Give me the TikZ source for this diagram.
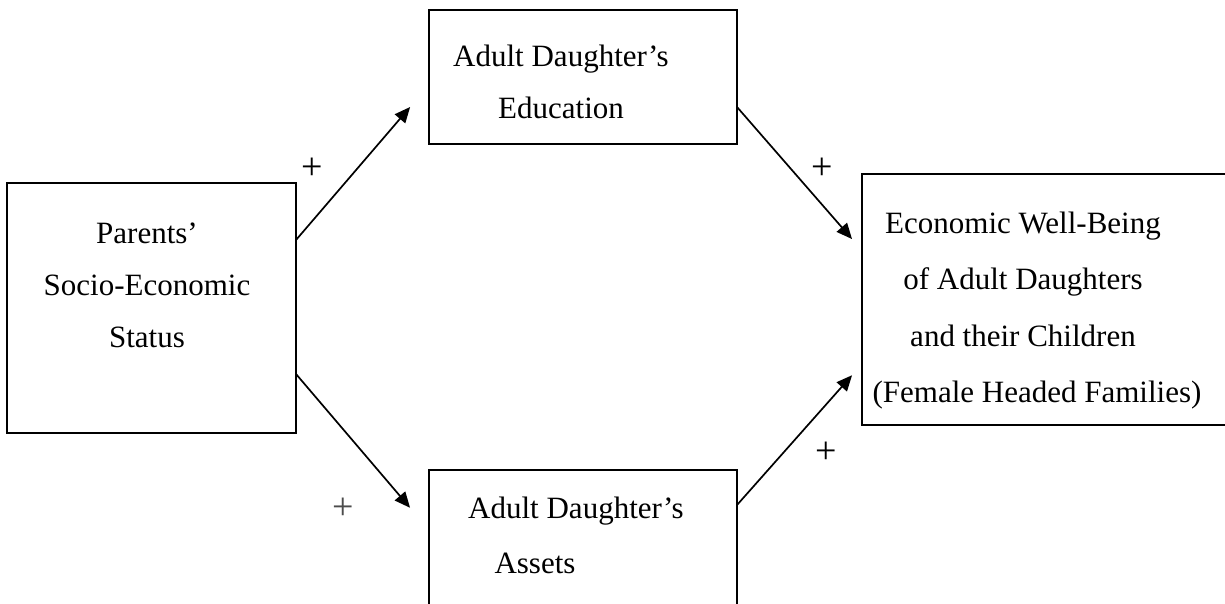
\documentclass[tikz,border=0pt]{standalone}
\usepackage{fontspec}
\setmainfont{Liberation Serif}
\usetikzlibrary{arrows.meta,calc}

\tikzset{
  box/.style={draw,line width=1pt,inner sep=0pt,outer sep=0pt},
  boxtext/.style={align=center,font=\fontsize{15.5}{26}\selectfont},
  sign/.style={font=\fontsize{19}{20}\selectfont},
  link/.style={line width=0.85pt,-{Triangle[length=7.8pt,width=6.8pt]}},
}

\begin{document}
\begin{tikzpicture}[x=0.5pt,y=-0.5pt]
  \useasboundingbox (0,0) rectangle (1225,604);
  \clip (0,0) rectangle (1225,604);
  % the four boxes
  \node[box,minimum width=144.5pt,minimum height=125pt] (ses) at (151.5,308) {};
  \node[box,minimum width=154pt,minimum height=67pt] (edu) at (583,77) {};
  \node[box,minimum width=154pt,minimum height=70pt] (assets) at (583,540) {};
  \node[box,minimum width=183pt,minimum height=125.5pt] (wellbeing) at (1045,299.5) {};
  % what they say
  \node[boxtext] (ses-txt) at (147,285) {Parents’\\Socio-Economic\\Status};
  \node[boxtext] (edu-txt) at (561,82) {Adult Daughter’s\\Education};
  \node[boxtext,font=\fontsize{15.5}{27.5}\selectfont] (assets-txt) at (576,535)
    {Adult Daughter’s\\\hspace*{-41pt}Assets};
  \node[boxtext,font=\fontsize{15.5}{28.3}\selectfont] (wellbeing-txt) at (1023,310.5)
    {Economic Well-Being\\of Adult Daughters\\and their Children\\\hspace*{14pt}(Female Headed Families)};
  % links
  \draw[link,shorten >=14.5pt] ($(ses.north east)+(0,57)$) -- ($(edu.north west)+(0,75)$);
  \draw[link,shorten >=14.6pt] ($(ses.north east)+(0,191)$) -- ($(assets.north west)+(0,60)$);
  \draw[link,shorten >=7.6pt] ($(edu.north east)+(0,97)$) -- ($(wellbeing.north west)+(0,76.5)$);
  \draw[link,shorten >=7.5pt] ($(assets.north east)+(0,35)$) -- ($(wellbeing.north west)+(0,190)$);
  \node[sign] (plus-a) at (312,169) {+};
  \node[sign] (plus-b) at (822,169) {+};
  \node[sign,text=black!70] (plus-c) at (343,509) {+};
  \node[sign] (plus-d) at (826,453) {+};
\end{tikzpicture}
\end{document}
